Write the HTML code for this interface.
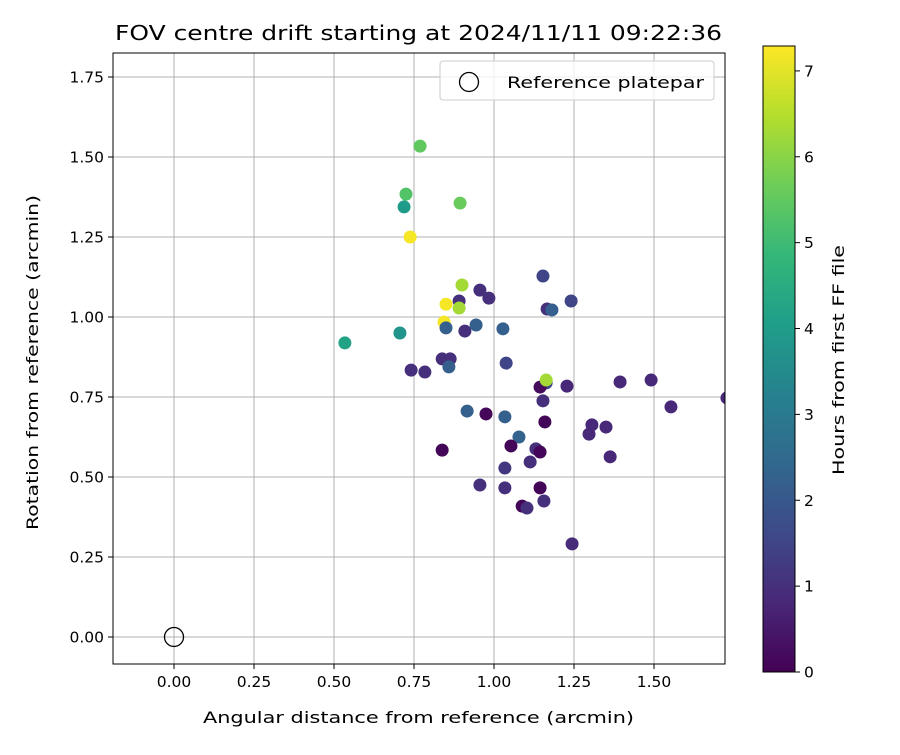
<!DOCTYPE html>
<html><head><meta charset="utf-8"><style>body{margin:0;background:#fff}svg{font-family:"DejaVu Sans","Liberation Sans",sans-serif}</style></head>
<body>
<svg id="c" width="900" height="750"></svg>
<script>
const xs=[0.769,1.728,0.894,0.725,0.719,0.738,0.9,0.956,0.984,0.891,0.85,0.891,1.153,1.241,1.166,1.181,0.844,0.85,0.909,0.944,1.028,0.534,0.706,0.838,0.863,0.859,0.741,0.784,1.038,1.163,1.144,1.228,1.394,1.491,1.553,1.153,0.916,0.975,1.034,1.159,1.306,1.35,1.297,1.078,1.053,0.838,1.131,1.144,1.363,1.113,1.034,0.956,1.034,1.144,1.156,1.088,1.103,1.244,1.163];
const ys=[1.534,0.747,1.356,1.384,1.344,1.25,1.1,1.084,1.059,1.05,1.04,1.028,1.128,1.05,1.025,1.022,0.984,0.966,0.956,0.975,0.963,0.919,0.95,0.869,0.869,0.844,0.834,0.828,0.856,0.794,0.781,0.784,0.797,0.803,0.719,0.738,0.706,0.697,0.688,0.672,0.663,0.656,0.634,0.625,0.597,0.584,0.588,0.578,0.563,0.547,0.528,0.475,0.466,0.466,0.425,0.409,0.403,0.291,0.803];
const hours=[5.5,0.8,5.6,5.3,4.0,7.2,6.3,1.0,1.0,1.0,7.2,6.3,1.5,1.5,1.0,2.2,7.2,2.2,1.0,2.2,2.2,4.2,3.8,1.0,1.0,2.2,1.0,1.0,1.5,1.5,0.2,0.8,0.8,0.8,0.8,1.0,2.2,0.1,2.2,0.1,0.8,0.8,0.8,2.3,0.1,0.1,1.0,0.1,0.8,1.0,1.2,1.0,1.0,0.1,1.0,0.1,1.0,0.9,6.3];
const xTicks=[0,0.25,0.5,0.75,1,1.25,1.5];
const yTicks=[0,0.25,0.5,0.75,1,1.25,1.5,1.75];
const cTicks=[0,1,2,3,4,5,6,7];
const NS="http://www.w3.org/2000/svg",svg=document.getElementById('c');
const L=113,R=725,T=53,B=664;
const X=v=>174+v*320, Y=v=>637-v*320;
const CB={x:763,w:32,top:46,bot:672,max:7.29};
const CY=v=>CB.bot-v/CB.max*(CB.bot-CB.top);
const vir=[[68,1,84],[72,40,120],[62,74,137],[49,104,142],[38,130,142],[31,158,137],[53,183,121],[109,205,89],[180,222,44],[253,231,37]];
function cm(t){t=Math.max(0,Math.min(1,t))*9;const i=Math.min(8,Math.floor(t)),f=t-i,a=vir[i],b=vir[i+1];return 'rgb('+a.map((v,k)=>Math.round(v+(b[k]-v)*f)).join(',')+')';}
function el(tag,at,name,txt){const e=document.createElementNS(NS,tag);for(const k in at)e.setAttribute(k,at[k]);
if(txt!==undefined)e.textContent=txt;svg.appendChild(e);return e;}
const defs=document.createElementNS(NS,'defs');defs.innerHTML='<clipPath id="pc"><rect x="113" y="53" width="612" height="611"/></clipPath><linearGradient id="vg" x1="0" y1="1" x2="0" y2="0">'+vir.map((c,i)=>'<stop offset="'+(i/9)+'" stop-color="rgb('+c.join(',')+')"/>').join('')+'</linearGradient>';svg.appendChild(defs);
xTicks.forEach(t=>{el('line',{x1:X(t),x2:X(t),y1:T,y2:B,stroke:'#b0b0b0','stroke-width':1},'x-grid-line');
el('line',{x1:X(t),x2:X(t),y1:B,y2:B+5,stroke:'#000'},'x-tick');
el('text',{x:X(t),y:B+23,'font-size':15.5,'text-anchor':'middle'},'x-tick-label',t.toFixed(2));});
yTicks.forEach(t=>{el('line',{x1:L,x2:R,y1:Y(t),y2:Y(t),stroke:'#b0b0b0','stroke-width':1},'y-grid-line');
el('line',{x1:L-5,x2:L,y1:Y(t),y2:Y(t),stroke:'#000'},'y-tick');
el('text',{x:L-9,y:Y(t)+5.5,'font-size':15.5,'text-anchor':'end'},'y-tick-label',t.toFixed(2));});
xs.forEach((v,i)=>el('circle',{cx:X(v),cy:Y(ys[i]),r:6.5,fill:cm(hours[i]/CB.max),'clip-path':'url(#pc)'},'data-point'));
el('circle',{cx:X(0),cy:Y(0),r:9.5,fill:'none',stroke:'#000','stroke-width':1.3},'reference-point');
el('rect',{x:L,y:T,width:R-L,height:B-T,fill:'none',stroke:'#000','stroke-width':1},'plot-frame');
el('rect',{x:440,y:61,width:274,height:39,rx:3,fill:'#fff','fill-opacity':0.8,stroke:'#ccc'},'legend-box');
el('circle',{cx:469,cy:82,r:9.5,fill:'none',stroke:'#000','stroke-width':1.3},'legend-marker');
el('text',{x:507,y:88,'font-size':16,textLength:197,lengthAdjust:'spacingAndGlyphs'},'legend-label','Reference platepar');
el('text',{x:115,y:40,'font-size':20,textLength:607,lengthAdjust:'spacingAndGlyphs'},'chart-title','FOV centre drift starting at 2024/11/11 09:22:36');
el('text',{x:203,y:723,'font-size':16,textLength:431,lengthAdjust:'spacingAndGlyphs'},'x-axis-title','Angular distance from reference (arcmin)');
el('text',{x:-530,y:38,'font-size':16,textLength:335,lengthAdjust:'spacingAndGlyphs',transform:'rotate(-90)'},'y-axis-title','Rotation from reference (arcmin)');
el('rect',{x:CB.x,y:CB.top,width:CB.w,height:CB.bot-CB.top,fill:'url(#vg)',stroke:'#000'},'colorbar');
cTicks.forEach(t=>{el('line',{x1:CB.x+CB.w,x2:CB.x+CB.w+5,y1:CY(t),y2:CY(t),stroke:'#000'},'colorbar-tick');
el('text',{x:CB.x+CB.w+9,y:CY(t)+5.5,'font-size':15.5},'colorbar-tick-label',String(t));});
el('text',{x:-475,y:844,'font-size':16,textLength:230,lengthAdjust:'spacingAndGlyphs',transform:'rotate(-90)'},'colorbar-title','Hours from first FF file');
</script>
</body></html>
